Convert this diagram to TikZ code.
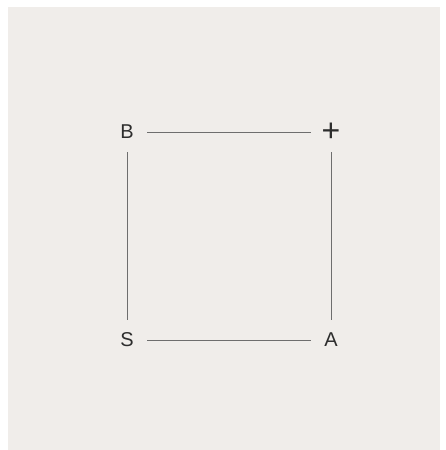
\documentclass[tikz,border=0pt]{standalone}
\usepackage{fontspec}
\setmainfont{Liberation Sans}
\usetikzlibrary{positioning}
\definecolor{cPanel}{RGB}{240,237,234}
\definecolor{cInk}{RGB}{45,45,45}
\definecolor{cLine}{RGB}{110,110,110}
\tikzset{
  corner/.style={circle,minimum size=40pt,inner sep=0pt,text=cInk,
                 font=\fontsize{20}{20}\selectfont},
  edge/.style={draw=cLine,line width=1pt}
}
\begin{document}
\begin{tikzpicture}[x=1pt,y=-1pt]
  % panel and margins
  \useasboundingbox (0,0) rectangle (446,450);
  \fill[white] (0,0) rectangle (446,450);
  \fill[cPanel] (8,7) rectangle (440,450);

  \node[corner] (b) at (127,132) {B};
  \node[corner,font=\fontsize{32}{32}\selectfont] (plus) at (331,132) {+};
  \node[corner] (s) at (127,340) {S};
  \node[corner] (a) at (331,340) {A};

  \draw[edge] (b) -- (plus);
  \draw[edge] (plus) -- (a);
  \draw[edge] (s) -- (a);
  \draw[edge] (b) -- (s);
\end{tikzpicture}
\end{document}
